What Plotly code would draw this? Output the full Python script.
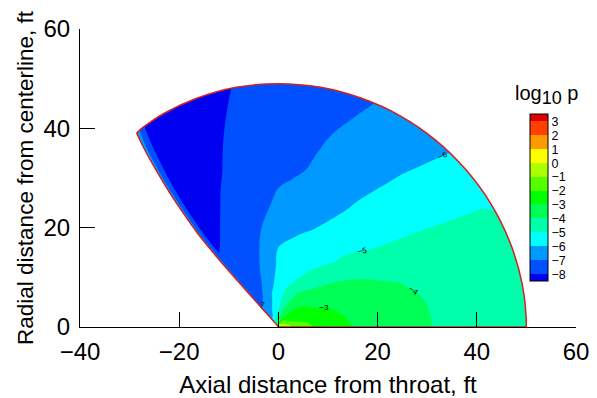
import math
import plotly.graph_objects as go

# ---- data ----
# nominal radii along each ray (ft); last column = outer boundary of the domain
radii = [0, 1, 2.5, 5, 8, 12, 16, 20, 25, 30, 35, 40, 45, 50]
# fixed ray angles (deg from axis); three more rays follow the nozzle-lip wall
ray_angles = [0, 10, 20, 30, 40, 50, 60, 70, 80, 90, 100, 110, 118]
wall_offsets = [2.5, 1.0, 0.0]
wall_angle = [128, 129, 130.5, 131.5, 131.5, 131.5, 131.5, 131.3, 130.8, 129.9, 129.0, 128.0, 127.0, 126.2]
outer_radius = [50.0, 49.9, 49.7, 49.5, 49.3, 49.2, 49.1, 49.0, 49.0, 49.0, 49.0, 48.9,
                48.8, 48.6, 48.5, 48.4]

# log10 p on each ray (rows) at each radius (columns)
logp = [
    [1.5, 0.0, -1.0, -1.6, -2.1, -2.7, -3.1, -3.3, -3.6, -3.95, -4.2, -4.4, -4.55, -4.7],
    [1.3, -0.2, -1.1, -1.9, -2.35, -2.9, -3.2, -3.45, -3.7, -4.0, -4.25, -4.45, -4.62, -4.78],
    [1.2, -0.5, -1.8, -2.3, -2.65, -3.1, -3.4, -3.65, -3.95, -4.2, -4.4, -4.6, -4.75, -4.88],
    [1.0, -0.8, -2.0, -2.5, -3.05, -3.4, -3.75, -4.05, -4.35, -4.6, -4.75, -4.87, -4.96, -5.03],
    [0.9, -1.2, -2.3, -2.75, -3.25, -3.85, -4.2, -4.6, -5.05, -5.25, -5.4, -5.52, -5.62, -5.7],
    [0.8, -1.4, -2.5, -3.1, -3.75, -4.3, -4.95, -5.2, -5.45, -5.65, -5.85, -5.97, -6.12, -6.25],
    [0.6, -1.8, -3.1, -3.6, -4.0, -4.9, -5.2, -5.45, -5.93, -6.1, -6.25, -6.38, -6.52, -6.68],
    [0.4, -2.5, -3.5, -4.1, -4.8, -5.2, -5.6, -5.95, -6.2, -6.4, -6.6, -6.78, -7.0, -7.15],
    [0.2, -3.0, -3.9, -4.6, -5.05, -5.5, -5.85, -6.1, -6.45, -6.92, -7.1, -7.25, -7.35, -7.45],
    [0.0, -3.5, -4.8, -5.4, -5.7, -5.85, -6.0, -6.35, -6.85, -7.1, -7.4, -7.55, -7.7, -7.85],
    [-0.5, -4.0, -5.0, -5.7, -6.1, -6.45, -6.75, -7.0, -7.3, -7.5, -7.65, -7.78, -7.88, -7.96],
    [-1.0, -4.5, -5.6, -6.4, -6.85, -7.15, -7.4, -7.6, -7.78, -7.92, -8.05, -8.15, -8.25, -8.3],
    [-1.5, -5.0, -6.0, -6.8, -7.15, -7.45, -7.7, -7.88, -8.0, -8.15, -8.25, -8.3, -8.35, -8.35],
    [-2.5, -5.3, -6.2, -6.95, -7.3, -7.55, -7.8, -8.05, -8.15, -8.2, -8.2, -8.15, -8.1, -8.05],
    [-2.8, -5.2, -6.0, -6.6, -6.9, -7.1, -7.25, -7.35, -7.4, -7.45, -7.45, -7.4, -7.3, -7.0],
    [-3.0, -5.0, -5.8, -6.2, -6.3, -6.3, -6.35, -6.4, -6.4, -6.4, -6.4, -6.35, -6.3, -6.2],
]

levels_start, levels_end = -8, 3
band_colors = ["#0000F0", "#0050FF", "#0099FF", "#00FFFF", "#00FFAA", "#00FF55",
               "#00FF00", "#55FF00", "#AAFF00", "#FFFF00", "#FF9900", "#FF4000", "#E00000"]
x_ticks = [-40, -20, 0, 20, 40, 60]
y_ticks = [0, 20, 40, 60]

# ---- carpet geometry (polar grid -> cartesian) ----
n_fixed = len(ray_angles)
b_vals = ray_angles + [124, 125.5, 126.5]
X, Y = [], []
for j in range(len(b_vals)):
    xr, yr = [], []
    for i, r0 in enumerate(radii):
        r = outer_radius[j] if i == len(radii) - 1 else r0
        th = ray_angles[j] if j < n_fixed else wall_angle[i] - wall_offsets[j - n_fixed]
        t = math.radians(th)
        xr.append(r * math.cos(t))
        yr.append(r * math.sin(t))
    X.append(xr)
    Y.append(yr)

n = len(band_colors) - 1
colorscale = [[k / n, c] for k, c in enumerate(band_colors)]

FONT = "Liberation Sans, Arial, sans-serif"
edge = "#D42020"
hidden_axis = dict(showgrid=False, showline=False, showticklabels="none",
                   minorgridcount=0, startline=True, endline=True,
                   startlinecolor=edge, endlinecolor=edge,
                   startlinewidth=1.5, endlinewidth=1.5, smoothing=1)

fig = go.Figure()
fig.add_trace(go.Carpet(carpet="c1", a=radii, b=b_vals, x=X, y=Y,
                        aaxis=hidden_axis, baxis=hidden_axis))
fig.add_trace(go.Contourcarpet(
    carpet="c1", a=radii, b=b_vals, z=logp,
    autocontour=False,
    contours=dict(start=levels_start, end=levels_end, size=1, coloring="fill",
                  showlines=False, showlabels=True,
                  labelfont=dict(size=8, color="black", family=FONT)),
    colorscale=colorscale,
    line=dict(width=0),
    colorbar=dict(
        x=0.907, xanchor="left", y=0.4329, yanchor="middle",
        lenmode="pixels", len=167, thickness=18, xpad=0, ypad=0,
        outlinewidth=1, outlinecolor="black",
        tickvals=list(range(levels_start, levels_end + 1)),
        ticks="",
        tickfont=dict(size=12.5, family=FONT, color="black"),
    ),
))

axis_common = dict(showline=True, linecolor="black", linewidth=1, mirror=False,
                   ticks="inside", ticklen=15, tickwidth=1, tickcolor="black",
                   showgrid=False, zeroline=False, automargin=False,
                   tickfont=dict(size=24, family=FONT, color="black"))
# the page adds an 8px body margin, so the figure is 8px smaller and shifted
fig.update_layout(
    width=589, height=390,
    margin=dict(l=72, r=21, t=21, b=71, autoexpand=False),
    paper_bgcolor="white", plot_bgcolor="white",
    font=dict(family=FONT, color="black"),
    showlegend=False,
    xaxis=dict(range=[-40, 60], tickvals=x_ticks, ticklabelstandoff=3, **axis_common,
               title=dict(text="Axial distance from throat, ft",
                          font=dict(size=24, family=FONT), standoff=12)),
    yaxis=dict(range=[0, 60], tickvals=y_ticks, ticklabelstandoff=4, **axis_common,
               title=dict(text="Radial distance from centerline, ft",
                          font=dict(size=22.5, family=FONT), standoff=3)),
    annotations=[dict(
        text='log<sub><span style="font-size:18px">10</span></sub> p',
        xref="paper", yref="paper", x=0.9415, y=0.7785,
        xanchor="center", yanchor="middle", showarrow=False,
        font=dict(size=20, family=FONT, color="black"),
    )],
)
fig.write_html("out.html")
